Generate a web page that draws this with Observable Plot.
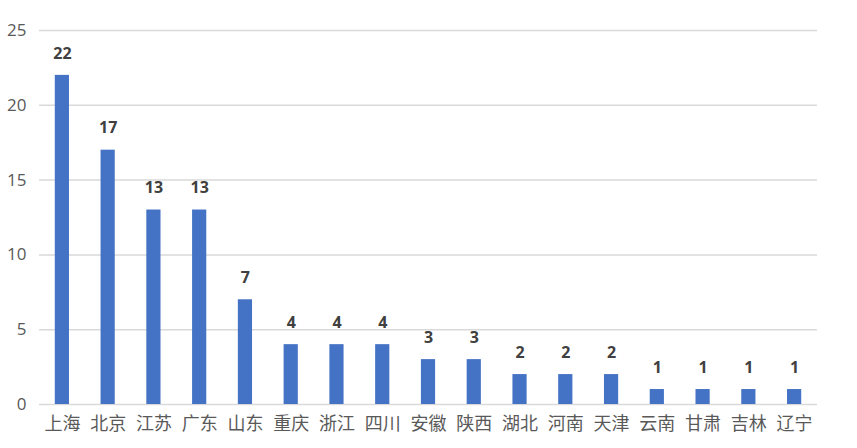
<!DOCTYPE html>
<html><head><meta charset="utf-8">
<script src="https://cdn.jsdelivr.net/npm/d3@7"></script>
<script src="https://cdn.jsdelivr.net/npm/@observablehq/plot@0.6"></script>
<style>
body{margin:0;background:#fff;}
svg{display:block;}
</style></head>
<body><div id="chart"></div>
<script>
const provinces = ["上海","北京","江苏","广东","山东","重庆","浙江","四川","安徽","陕西","湖北","河南","天津","云南","甘肃","吉林","辽宁"];
const counts = [22,17,13,13,7,4,4,4,3,3,2,2,2,1,1,1,1];
const yTicks = [0,5,10,15,20,25];
const data = provinces.map((p,i)=>({p, v: counts[i]}));
const chart = Plot.plot({
  width: 857, height: 448,
  marginLeft: 39, marginRight: 40, marginTop: 30, marginBottom: 44,
  style: {fontFamily: "'Noto Sans CJK SC', 'Open Sans', sans-serif", background: "#fff"},
  x: {domain: provinces, paddingInner: 0.69, paddingOuter: 0.345, round: false, label: null},
  y: {domain: [0,25], label: null},
  marks: [
    Plot.gridY(yTicks, {stroke: "#d9d9d9", strokeOpacity: 1, strokeWidth: 1.5}),
    Plot.axisY(yTicks, {tickSize: 0, tickPadding: 13, fontSize: 17, fill: "#595959", fontFamily: "'Open Sans', sans-serif", label: null}),
    Plot.axisX({tickSize: 0, tickPadding: 13, fontSize: 18, fill: "#595959", label: null}),
    Plot.barY(data, {x: "p", y: "v", fill: "#4472c4"}),
    Plot.text(data, {x: "p", y: "v", text: d => String(d.v), dy: -22, fontSize: 16, fontWeight: "bold", fill: "#404040", fontFamily: "'Open Sans', sans-serif"})
  ]
});
document.getElementById("chart").appendChild(chart);
</script></body></html>
